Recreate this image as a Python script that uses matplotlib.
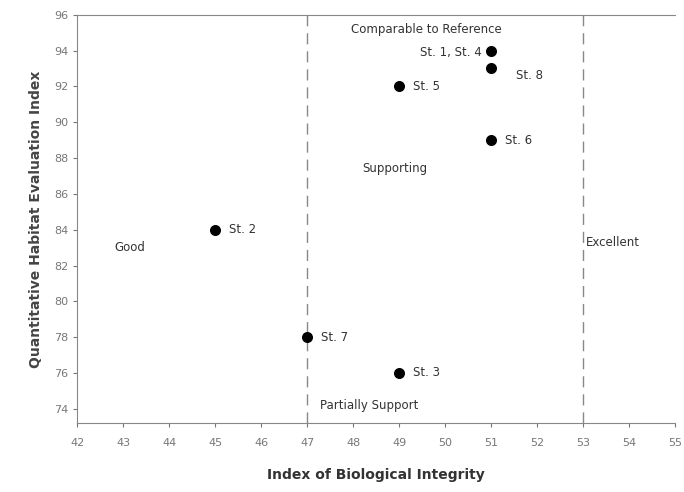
import matplotlib.pyplot as plt

# Data
stations = ["St. 1, St. 4", "St. 8", "St. 5", "St. 6", "St. 2", "St. 7", "St. 3"]
ibi = [51, 51, 49, 51, 45, 47, 49]
qhei = [94, 93, 92, 89, 84, 78, 76]

zones = ["Comparable to Reference", "Supporting", "Good", "Excellent", "Partially Support"]
zone_x = [49.6, 48.9, 43.15, 53.65, 48.35]
zone_y = [95.2, 87.4, 83.0, 83.3, 74.2]

fig = plt.figure(figsize=(6.84, 4.92), dpi=100)
ax = fig.add_axes([0.113, 0.140, 0.874, 0.83])

ax.scatter(ibi, qhei, s=48, color="black", zorder=3)

# station labels
for name, x, y in zip(stations, ibi, qhei):
    if name.startswith("St. 1"):
        ax.text(x - 0.2, y - 0.1, name, ha="right", va="center", fontsize=8.5, color="#333333")
    elif name == "St. 8":
        ax.text(x + 0.55, y - 0.4, name, ha="left", va="center", fontsize=8.5, color="#333333")
    else:
        ax.text(x + 0.3, y, name, ha="left", va="center", fontsize=8.5, color="#333333")

for name, x, y in zip(zones, zone_x, zone_y):
    ax.text(x, y, name, ha="center", va="center", fontsize=8.5, color="#333333")

ax.axvline(47, color="#888888", linestyle=(0, (8, 5)), linewidth=1)
ax.axvline(53, color="#888888", linestyle=(0, (8, 5)), linewidth=1)

ax.set_xlim(42, 55)
ax.set_ylim(73.2, 96)
ax.set_xticks(range(42, 56))
ax.set_yticks(range(74, 97, 2))
ax.tick_params(colors="#777777", labelsize=8, length=3, direction="out")
ax.tick_params(axis="x", pad=8)
for s in ["left", "bottom", "top"]:
    ax.spines[s].set_color("#888888")
ax.spines["right"].set_visible(False)

ax.set_xlabel("Index of Biological Integrity", fontsize=10, fontweight="bold", color="#333333", labelpad=14)
ax.set_ylabel("Quantitative Habitat Evaluation Index", fontsize=10, fontweight="bold", color="#444444", labelpad=8)

fig.savefig("out.png", dpi=100)
